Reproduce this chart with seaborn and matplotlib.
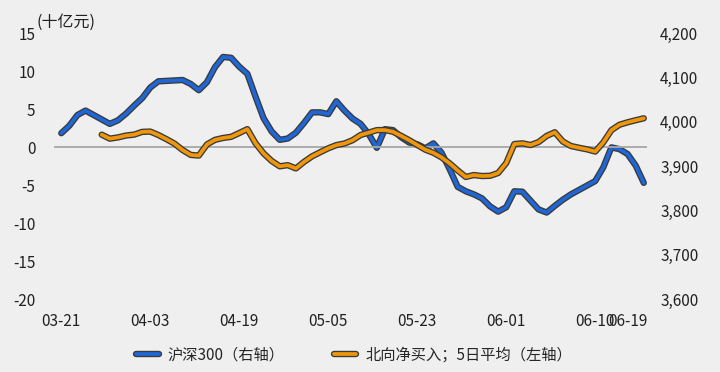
import numpy as np
import pandas as pd
import matplotlib
matplotlib.use('Agg')
import matplotlib.pyplot as plt
import matplotlib.patheffects as pe
from matplotlib.ticker import StrMethodFormatter
import seaborn as sns

# 交易日序号（73个交易日，03-21 ~ 06-19）
day_idx = list(range(73))

# 沪深300 收盘（右轴）
csi300 = [3974, 3991, 4015, 4025, 4015, 4005, 3995, 4003, 4018, 4036,
          4053, 4077, 4091, 4092, 4093, 4094, 4085, 4071, 4089, 4123,
          4146, 4144, 4124, 4108, 4057, 4008, 3978, 3959, 3962, 3975,
          3997, 4021, 4021, 4017, 4046, 4025, 4007, 3995, 3972, 3941,
          3983, 3981, 3965, 3953, 3949, 3940, 3951, 3930, 3893, 3853,
          3843, 3836, 3827, 3809, 3797, 3807, 3843, 3842, 3822, 3802,
          3795, 3810, 3824, 3836, 3846, 3856, 3866, 3897, 3942, 3938,
          3927, 3901, 3862]

# 北向净买入 5日平均（左轴，十亿元）
north_5d = [np.nan, np.nan, np.nan, np.nan, np.nan,
            1.62, 1.10, 1.26, 1.51, 1.63, 1.99, 2.03, 1.58, 1.03, 0.44,
            -0.40, -1.04, -1.13, 0.33, 0.94, 1.19, 1.34, 1.84, 2.35, 0.51,
            -0.83, -1.83, -2.54, -2.39, -2.82, -1.96, -1.23, -0.69, -0.17, 0.25,
            0.46, 0.89, 1.58, 1.89, 2.22, 2.23, 2.01, 1.47, 0.90, 0.27,
            -0.35, -0.76, -1.36, -2.15, -3.08, -3.94, -3.69, -3.82, -3.79, -3.42,
            -2.11, 0.39, 0.48, 0.26, 0.65, 1.46, 1.94, 0.72, 0.13, -0.10,
            -0.31, -0.60, 0.61, 2.22, 2.93, 3.25, 3.52, 3.78]

tick_idx = [0, 11, 22, 33, 44, 55, 66, 70]
tick_labels = ['03-21', '04-03', '04-19', '05-05', '05-23', '06-01', '06-10', '06-19']

left_ticks = [15, 10, 5, 0, -5, -10, -15, -20]
right_ticks = [4200, 4100, 4000, 3900, 3800, 3700, 3600]

df = pd.DataFrame({'idx': day_idx, 'csi300': csi300, 'north': north_5d})

sns.set_theme(style='white')
plt.rcParams['font.family'] = ['Noto Sans CJK SC', 'DejaVu Sans']
plt.rcParams['axes.unicode_minus'] = False

bg = '#efefef'
blue = '#1f66d6'
orange = '#f0960a'
edge = '#3a3a3a'

fig, ax = plt.subplots(figsize=(7.2, 3.72), dpi=100)
fig.patch.set_facecolor(bg)
fig.subplots_adjust(left=54/720, right=647/720, bottom=73/372, top=339/372)
ax2 = ax.twinx()

# 让左轴（橙线）画在右轴（蓝线）之上
ax.set_zorder(ax2.get_zorder() + 1)
ax.patch.set_visible(False)
ax2.patch.set_visible(False)

ax.axhline(0, color='#a8a8a8', lw=1.3, zorder=1)

stroke = [pe.Stroke(linewidth=4.6, foreground=edge, capstyle='round', joinstyle='round'), pe.Normal()]

sns.lineplot(data=df, x='idx', y='csi300', ax=ax2, color=blue, lw=2.7,
             estimator=None, path_effects=stroke, solid_capstyle='round',
             solid_joinstyle='round', label='沪深300（右轴）', legend=False)
sns.lineplot(data=df.dropna(), x='idx', y='north', ax=ax, color=orange, lw=2.7,
             estimator=None, path_effects=stroke, solid_capstyle='round',
             solid_joinstyle='round', label='北向净买入；5日平均（左轴）', legend=False)

ax.set_xlim(-0.9, 72.4)
ax.set_ylim(-20, 15)
ax2.set_ylim(3600, 4200)
ax.set_yticks(left_ticks)
ax2.set_yticks(right_ticks)
ax2.yaxis.set_major_formatter(StrMethodFormatter('{x:,.0f}'))
ax.set_xticks(tick_idx)
ax.set_xticklabels(tick_labels)
ax.get_xticklabels()[6].set_fontsize(9)

for a in (ax, ax2):
    for s in a.spines.values():
        s.set_visible(False)
    a.set_xlabel('')
    a.set_ylabel('')
    a.grid(False)

ax.tick_params(axis='y', length=0, pad=13.5, labelsize=11, colors='#222222')
ax.tick_params(axis='x', length=0, pad=10, labelsize=11, colors='#222222')
ax2.tick_params(axis='y', length=0, pad=9.5, labelsize=11, colors='#222222')

fig.text(37/720, 1 - 22/372, '(十亿元)', fontsize=11.5, color='#222222',
         ha='left', va='center')

h1, l1 = ax2.get_legend_handles_labels()
h2, l2 = ax.get_legend_handles_labels()
fig.legend(h1 + h2, l1 + l2, loc='center', bbox_to_anchor=(354/720, 17/372),
           ncol=2, frameon=False, fontsize=11, handlelength=1.5,
           columnspacing=3.2, handletextpad=0.6)

fig.savefig('out.png', dpi=100, facecolor=bg)
